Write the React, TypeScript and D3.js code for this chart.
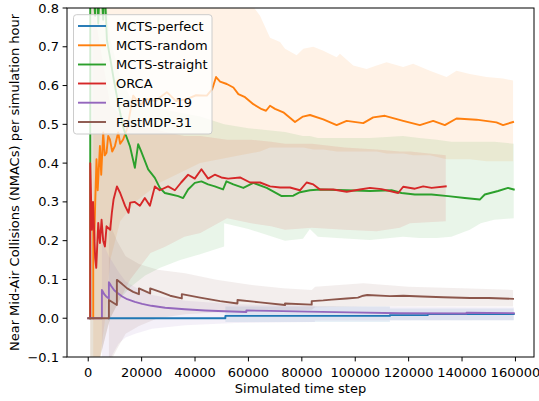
import React from "react";
import * as d3 from "d3";

// ---------- data (step, value) ----------
const mctsPerfect: [number, number][] = [
  [7740, 0], [51360, 0], [51360, 0.006], [112980, 0.006], [112980, 0.008], [127200, 0.008], [127200, 0.011], [159370, 0.011],
];
const mctsRandom: [number, number][] = [
  [1870, 0], [1870, 0.27], [2250, 0.2], [2620, 0.3], [3100, 0.41], [3550, 0.33], [4380, 0.444], [4860, 0.37], [5610, 0.479],
  [6170, 0.42], [6850, 0.427], [7480, 0.47], [8120, 0.461], [8980, 0.43], [9990, 0.444], [11220, 0.479], [11970, 0.45],
  [13090, 0.461], [14590, 0.49], [16830, 0.574], [19450, 0.55], [21960, 0.565], [25060, 0.56], [29440, 0.583], [32920, 0.56],
  [36920, 0.565], [40400, 0.575], [44410, 0.574], [46390, 0.59], [47880, 0.622], [49380, 0.61], [51890, 0.604], [54360, 0.595],
  [56230, 0.578], [58730, 0.57], [61840, 0.552], [64980, 0.539], [66590, 0.535], [68090, 0.548], [69960, 0.54], [73060, 0.531],
  [77440, 0.506], [80430, 0.52], [83050, 0.524], [88030, 0.513], [93040, 0.498], [96780, 0.509], [103000, 0.503],
  [106730, 0.518], [111110, 0.522], [117950, 0.509], [124200, 0.498], [129180, 0.509], [133560, 0.498], [137930, 0.515],
  [145410, 0.512], [152890, 0.505], [155360, 0.498], [159100, 0.506],
];
const mctsStraight: [number, number][] = [
  [750, 0], [750, 0.9], [1900, 0.85], [2600, 0.78], [3000, 0.95], [3750, 0.76], [4500, 0.9], [5600, 0.77], [6000, 0.88],
  [7000, 0.717], [8230, 0.67], [9460, 0.62], [11330, 0.55], [13200, 0.49], [13730, 0.479], [15600, 0.444], [17470, 0.388],
  [18700, 0.449], [19830, 0.43], [22450, 0.384], [24950, 0.362], [26820, 0.336], [28690, 0.323], [31160, 0.319],
  [33670, 0.315], [35540, 0.31], [37410, 0.332], [39920, 0.349], [42390, 0.353], [44890, 0.345], [47400, 0.34],
  [50500, 0.332], [51740, 0.353], [54360, 0.345], [58100, 0.336], [61840, 0.349], [66850, 0.336], [72460, 0.315],
  [76800, 0.316], [79300, 0.325], [83050, 0.33], [86800, 0.332], [96780, 0.33], [105500, 0.328], [113610, 0.33],
  [117350, 0.323], [122330, 0.319], [128580, 0.319], [134790, 0.315], [141040, 0.31], [146650, 0.306], [148520, 0.319],
  [153490, 0.328], [157230, 0.336], [159370, 0.332],
];
const orca: [number, number][] = [
  [750, 0], [750, 0.4], [1100, 0.3], [1400, 0.228], [1800, 0.3], [2600, 0.155], [3000, 0.13], [3750, 0.246], [4370, 0.194],
  [5000, 0.254], [5600, 0.2], [6250, 0.185], [6860, 0.237], [8230, 0.228], [8850, 0.272], [9480, 0.306], [10750, 0.34],
  [11970, 0.323], [13840, 0.289], [15090, 0.272], [15710, 0.298], [17450, 0.3], [19350, 0.29], [21200, 0.31], [23100, 0.29],
  [24950, 0.34], [26800, 0.33], [29900, 0.34], [32450, 0.33], [34800, 0.35], [37400, 0.37], [39900, 0.36], [42400, 0.384],
  [44900, 0.36], [47400, 0.37], [49850, 0.363], [52400, 0.36], [56850, 0.363], [60600, 0.35], [64350, 0.35], [68100, 0.34],
  [71850, 0.337], [75550, 0.337], [79300, 0.33], [81800, 0.35], [84300, 0.345], [86800, 0.332], [91750, 0.332],
  [96800, 0.326], [101750, 0.332], [105500, 0.336], [109850, 0.333], [116100, 0.323], [117950, 0.339], [122350, 0.334],
  [125450, 0.34], [128600, 0.336], [133900, 0.34],
];
const fastMdp19: [number, number][] = [
  [0, 0], [5120, 0], [5120, 0.073], [5990, 0.062], [6730, 0.056], [7740, 0.051], [7740, 0.093], [8600, 0.083], [9730, 0.072],
  [11220, 0.064], [12720, 0.056], [14590, 0.049], [17470, 0.042], [20200, 0.037], [23680, 0.032], [28810, 0.027],
  [36180, 0.023], [43770, 0.02], [51140, 0.018], [59220, 0.016], [59220, 0.02], [68090, 0.019], [82300, 0.017],
  [98000, 0.015], [116720, 0.013], [141670, 0.012], [141670, 0.014], [159370, 0.013],
];
const fastMdp31: [number, number][] = [
  [0, 0], [7740, 0], [7740, 0.047], [10730, 0.034], [10730, 0.099], [12720, 0.088], [14590, 0.077], [16830, 0.068],
  [19000, 0.062], [19000, 0.077], [23200, 0.064], [23200, 0.077], [26940, 0.068], [30680, 0.058], [35050, 0.051],
  [35050, 0.062], [41900, 0.053], [49380, 0.044], [55900, 0.038], [55900, 0.047], [64350, 0.041], [73700, 0.034],
  [73700, 0.038], [83700, 0.035], [83700, 0.044], [88000, 0.046], [91200, 0.048], [96800, 0.051], [101000, 0.053],
  [103000, 0.058], [104500, 0.06], [113000, 0.057], [118000, 0.058], [125000, 0.056], [133000, 0.054], [143000, 0.052],
  [150000, 0.052], [159100, 0.05],
];

// ---------- bands (step, low, high) ----------
const perfectBand: [number, number, number][] = [
  [51360, -0.01, 0.03], [112980, -0.01, 0.03], [112980, -0.005, 0.025], [159370, -0.005, 0.025],
];
const randomBand: [number, number, number][] = [
  [1870, -0.15, 1.0], [4490, -0.1, 1.0], [6360, 0.0, 1.0], [8230, 0.15, 1.0], [11970, 0.25, 1.0], [17580, 0.3, 1.0],
  [26940, 0.35, 1.0], [41900, 0.4, 0.95], [56860, 0.42, 0.85], [64340, 0.43, 0.78], [68090, 0.44, 0.723],
  [71830, 0.44, 0.712], [73700, 0.44, 0.695], [78080, 0.44, 0.678], [80540, 0.44, 0.695], [84290, 0.435, 0.7],
  [88030, 0.435, 0.69], [93040, 0.43, 0.673], [94270, 0.43, 0.682], [99250, 0.43, 0.652], [104260, 0.43, 0.643],
  [108000, 0.43, 0.652], [111740, 0.425, 0.66], [117950, 0.425, 0.648], [121690, 0.42, 0.656], [127940, 0.42, 0.638],
  [134190, 0.41, 0.622], [137930, 0.41, 0.638], [142900, 0.41, 0.63], [149150, 0.405, 0.622], [155360, 0.405, 0.618],
  [159100, 0.405, 0.613],
];
const straightBand: [number, number, number][] = [
  [750, -0.15, 1.0], [4490, -0.1, 1.0], [7000, -0.03, 0.8], [8230, 0.0, 0.72], [11970, 0.05, 0.62], [15710, 0.08, 0.57],
  [21320, 0.11, 0.55], [26940, 0.13, 0.54], [34420, 0.15, 0.53], [41900, 0.165, 0.52], [50900, 0.185, 0.5],
  [50900, 0.245, 0.5], [60000, 0.23, 0.49], [73700, 0.2, 0.48], [80430, 0.205, 0.47], [83000, 0.23, 0.47],
  [86000, 0.21, 0.465], [93150, 0.207, 0.465], [105500, 0.202, 0.465], [117840, 0.21, 0.47], [124000, 0.207, 0.465],
  [130560, 0.207, 0.46], [136000, 0.21, 0.455], [142900, 0.228, 0.455], [147000, 0.245, 0.455], [152000, 0.254, 0.455],
  [159370, 0.258, 0.45],
];
const orcaBand: [number, number, number][] = [
  [750, -0.15, 0.85], [4490, -0.1, 0.7], [8230, 0.0, 0.55], [15710, 0.1, 0.5], [23310, 0.168, 0.49], [29000, 0.185, 0.48],
  [36000, 0.21, 0.47], [42000, 0.22, 0.47], [52000, 0.258, 0.46], [61000, 0.245, 0.46], [68500, 0.237, 0.455],
  [73700, 0.228, 0.45], [83700, 0.233, 0.45], [96000, 0.228, 0.44], [108000, 0.224, 0.435], [116700, 0.233, 0.43],
  [120500, 0.245, 0.43], [133900, 0.25, 0.42],
];
const fastMdp19Band: [number, number, number][] = [
  [5120, -0.12, 0.2], [7740, -0.11, 0.16], [11330, -0.066, 0.12], [14000, -0.05, 0.095], [17580, -0.04, 0.08],
  [23830, -0.027, 0.06], [36290, -0.018, 0.045], [55000, -0.012, 0.036], [84900, -0.01, 0.032], [84900, -0.006, 0.03],
  [159370, -0.005, 0.028],
];
const fastMdp31Band: [number, number, number][] = [
  [7740, -0.12, 0.25], [10730, -0.08, 0.2], [14000, -0.04, 0.16], [19000, -0.02, 0.14], [26000, 0.0, 0.125],
  [36290, 0.01, 0.116], [48000, 0.015, 0.099], [60600, 0.018, 0.086], [73000, 0.02, 0.077], [83700, 0.022, 0.073],
  [85000, 0.028, 0.081], [103000, 0.03, 0.09], [120000, 0.03, 0.081], [140000, 0.03, 0.077], [159100, 0.03, 0.073],
];

const seriesNames = ["MCTS-perfect", "MCTS-random", "MCTS-straight", "ORCA", "FastMDP-19", "FastMDP-31"];
const seriesColors = ["#1f77b4", "#ff7f0e", "#2ca02c", "#d62728", "#9467bd", "#8c564b"];
const seriesLines = [mctsPerfect, mctsRandom, mctsStraight, orca, fastMdp19, fastMdp31];
const seriesBands = [perfectBand, randomBand, straightBand, orcaBand, fastMdp19Band, fastMdp31Band];

const xTicks = [0, 20000, 40000, 60000, 80000, 100000, 120000, 140000, 160000];
const yTicks = [-0.1, 0.0, 0.1, 0.2, 0.3, 0.4, 0.5, 0.6, 0.7, 0.8];

const W = 539;
const H = 401;
const L = 67, R = 534, T = 8, B = 357;
const FONT = "DejaVu Sans, sans-serif";
const FS = 13;

export default function App() {
  const x = d3.scaleLinear().domain([-7950, 166950]).range([L, R]);
  const y = d3.scaleLinear().domain([-0.1, 0.8]).range([B, T]);
  const line = d3.line<[number, number]>().x((d) => x(d[0])).y((d) => y(d[1]));
  const area = d3
    .area<[number, number, number]>()
    .x((d) => x(d[0]))
    .y0((d) => y(d[1]))
    .y1((d) => y(d[2]));

  const fmtY = (v: number) => {
    const s = Math.abs(v).toFixed(1);
    return v < -1e-9 ? "\u2212" + s : s;
  };

  const legendRows = [26, 45.3, 64.5, 83.5, 102.7, 122];

  return (
    <svg
      width={W}
      height={H}
      viewBox={`0 0 ${W} ${H}`}
      style={{ position: "absolute", left: 0, top: 0, background: "#fff" }}
      fontFamily={FONT}
    >
      <defs>
        <clipPath id="plotClip">
          <rect x={L} y={T} width={R - L} height={B - T} />
        </clipPath>
      </defs>
      <rect x={0} y={0} width={W} height={H} fill="#fff" />
      <g clipPath="url(#plotClip)">
        {seriesBands.map((b, i) => (
          <path key={"b" + i} d={area(b) || ""} fill={seriesColors[i]} fillOpacity={0.1} stroke="none" />
        ))}
        {seriesLines.map((s, i) => (
          <path
            key={"l" + i}
            d={line(s) || ""}
            fill="none"
            stroke={seriesColors[i]}
            strokeWidth={1.9}
            strokeLinejoin="round"
            strokeLinecap="square"
          />
        ))}
      </g>
      {/* spines */}
      <rect x={L} y={T} width={R - L} height={B - T} fill="none" stroke="#000" strokeWidth={1} />
      {/* x ticks */}
      {xTicks.map((t) => (
        <g key={"xt" + t}>
          <line x1={x(t)} x2={x(t)} y1={B} y2={B + 4.4} stroke="#000" strokeWidth={1} />
          <text x={x(t)} y={B + 15} fontSize={FS} textAnchor="middle" dominantBaseline="central" fill="#000">
            {t}
          </text>
        </g>
      ))}
      {/* y ticks */}
      {yTicks.map((t) => (
        <g key={"yt" + t}>
          <line x1={L - 4.4} x2={L} y1={y(t)} y2={y(t)} stroke="#000" strokeWidth={1} />
          <text x={L - 8} y={y(t)} fontSize={FS} textAnchor="end" dominantBaseline="central" fill="#000">
            {fmtY(t)}
          </text>
        </g>
      ))}
      <text x={(L + R) / 2} y={388} fontSize={FS} textAnchor="middle" dominantBaseline="central" fill="#000">
        Simulated time step
      </text>
      <text
        transform={`translate(14,${(T + B) / 2}) rotate(-90)`}
        fontSize={FS}
        textAnchor="middle"
        dominantBaseline="central"
        fill="#000"
      >
        Near Mid-Air Collisions (NMACs) per simulation hour
      </text>
      {/* legend */}
      <rect x={73.5} y={14.7} width={138.5} height={119.3} rx={3} fill="#fff" fillOpacity={0.8} stroke="#ccc" strokeWidth={1} />
      {seriesNames.map((n, i) => (
        <g key={"lg" + i}>
          <line x1={78} x2={106} y1={legendRows[i]} y2={legendRows[i]} stroke={seriesColors[i]} strokeWidth={1.9} />
          <text x={116} y={legendRows[i]} fontSize={FS} dominantBaseline="central" fill="#000">
            {n}
          </text>
        </g>
      ))}
    </svg>
  );
}
